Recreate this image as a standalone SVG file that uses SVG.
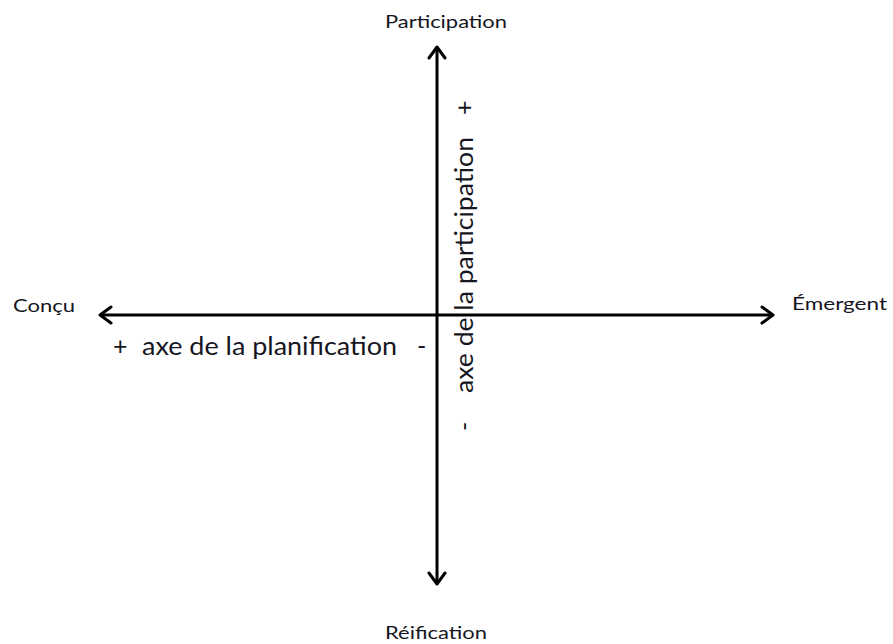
<svg xmlns="http://www.w3.org/2000/svg" width="893" height="644" viewBox="0 0 893 644">
  <style>
    .lbl { font-family: Lato, "Noto Sans", "Liberation Sans", sans-serif; font-size: 18px; fill: #161622; }
    .big { font-family: Lato, "Noto Sans", "Liberation Sans", sans-serif; font-size: 25px; fill: #161622; }
    .axis { stroke: #000; stroke-width: 3; fill: none; }
  </style>
  <defs>
    <marker id="arr" viewBox="-14 -10 16 20" refX="0" refY="0" markerWidth="16" markerHeight="20" markerUnits="userSpaceOnUse" orient="auto-start-reverse">
      <path d="M -11 -8 L 0 0 L -11 8" fill="none" stroke="#000" stroke-width="3" stroke-linecap="round" stroke-linejoin="round"/>
    </marker>
  </defs>
  <rect width="893" height="644" fill="#fff"/>
  <g id="connectors">
    <line class="axis" x1="437" y1="47" x2="437" y2="584" marker-start="url(#arr)" marker-end="url(#arr)"/>
    <line class="axis" x1="100" y1="315" x2="773" y2="315" marker-start="url(#arr)" marker-end="url(#arr)"/>
  </g>
  <g id="participation"><text class="lbl" x="385" y="28" textLength="122" lengthAdjust="spacingAndGlyphs">Participation</text></g>
  <g id="concu"><text class="lbl" x="13" y="312" textLength="62" lengthAdjust="spacingAndGlyphs">Conçu</text></g>
  <g id="emergent"><text class="lbl" x="792" y="310" textLength="95" lengthAdjust="spacingAndGlyphs">Émergent</text></g>
  <g id="reification"><text class="lbl" x="385" y="639" textLength="102" lengthAdjust="spacingAndGlyphs">Réification</text></g>
  <g id="axe-planification">
    <text class="big" x="113" y="355">+</text>
    <text class="big" x="142" y="355" textLength="255" lengthAdjust="spacingAndGlyphs">axe de la planification</text>
    <text class="big" x="417" y="355">-</text>
  </g>
  <g id="axe-participation">
    <text class="big" x="473" y="115" transform="rotate(-90 473 115)">+</text>
    <text class="big" x="473" y="393" transform="rotate(-90 473 393)" textLength="256" lengthAdjust="spacingAndGlyphs">axe de la participation</text>
    <text class="big" x="473" y="431" transform="rotate(-90 473 431)">-</text>
  </g>
</svg>
